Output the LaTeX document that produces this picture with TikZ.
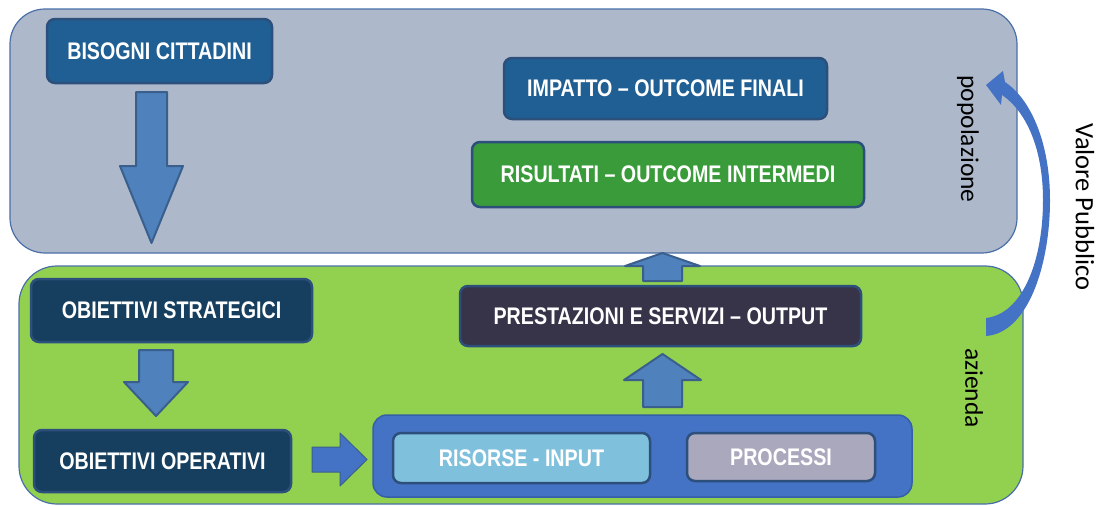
\documentclass[tikz,border=0pt]{standalone}
\usepackage{fontspec}
\setmainfont{Liberation Sans}
\newfontfamily\boxfont{Liberation Sans}[FakeStretch=0.82]
\newfontfamily\lblfont{Carlito}
\definecolor{popfill}{HTML}{ADB9CA}
\definecolor{bigline}{HTML}{4A6FA8}
\definecolor{azfill}{HTML}{92D050}
\definecolor{bluebox}{HTML}{1F5F94}
\definecolor{greenbox}{HTML}{3A9B3A}
\definecolor{purplebox}{HTML}{37344A}
\definecolor{navybox}{HTML}{163F5F}
\definecolor{contfill}{HTML}{4472C4}
\definecolor{contline}{HTML}{3560A8}
\definecolor{lightbox}{HTML}{7FC1DD}
\definecolor{greybox}{HTML}{A9A8BD}
\definecolor{boxline}{HTML}{2D4F7C}
\definecolor{arrfill}{HTML}{4F81BD}
\definecolor{arrline}{HTML}{3A5F8C}
\definecolor{curvefill}{HTML}{4472C4}
\begin{document}
\begin{tikzpicture}[x=1pt,y=-1pt,
  bigbox/.style={draw=bigline,line width=1.2pt},
  box/.style={rectangle,rounded corners=8pt,draw=boxline,line width=2.5pt,
    inner sep=0pt,text=white,
    font=\boxfont\bfseries\fontsize{24}{24}\selectfont},
  blockarrow/.style={fill=arrfill,draw=arrline,line width=2pt,line join=round},
  sidelabel/.style={font=\lblfont\fontsize{25.5}{25.5}\selectfont,text=black,rotate=-90,inner sep=0pt}]
\useasboundingbox (0,0) rectangle (1098,506);
% big regions
\draw[bigbox,fill=popfill,rounded corners=35pt] (10,9) rectangle (1017,253);
\draw[bigbox,fill=azfill,rounded corners=38pt] (19,266) rectangle (1023,504);
% block arrows
\draw[blockarrow] (136,92) -- (167,92) -- (167,166) -- (183,166) -- (151.5,243) -- (120,166) -- (136,166) -- cycle;
\draw[blockarrow] (139,350) -- (173,350) -- (173,382) -- (188,382) -- (156,416) -- (124,382) -- (139,382) -- cycle;
\draw[blockarrow,fill=contfill,line width=1pt] (312,447) -- (340,447) -- (340,433) -- (367,459.5) -- (340,486) -- (340,472) -- (312,472) -- cycle;
\draw[blockarrow] (643,281) -- (682,281) -- (682,266) -- (700,266) -- (662.5,253) -- (625,266) -- (643,266) -- cycle;
\draw[blockarrow] (643,407) -- (682,407) -- (682,380) -- (701,380) -- (662.5,354) -- (624,380) -- (643,380) -- cycle;
% curved arrow (Valore Pubblico)
\fill[curvefill] (986,336) .. controls (1028,333) and (1050,265) .. (1050,200)
  .. controls (1050,145) and (1032,100) .. (1005,82)
  -- (1003,71) -- (986,85) -- (1001,105) -- (1002,95)
  .. controls (1027,112) and (1043,150) .. (1043,200)
  .. controls (1043,262) and (1022,314) .. (986,318) -- cycle;
% nodes
\node[box,fill=bluebox,minimum width=225pt,minimum height=64pt] (bisogni) at (159.5,51) {BISOGNI CITTADINI};
\node[box,fill=bluebox,minimum width=323pt,minimum height=61pt] (impatto) at (665.5,88.5) {IMPATTO – OUTCOME FINALI};
\node[box,fill=greenbox,minimum width=392pt,minimum height=65pt] (risultati) at (668,174.5) {RISULTATI – OUTCOME INTERMEDI};
\node[box,fill=purplebox,minimum width=401pt,minimum height=60pt] (prest) at (660.5,316) {PRESTAZIONI E SERVIZI – OUTPUT};
\node[box,fill=navybox,minimum width=281pt,minimum height=63pt] (strat) at (171.5,310.5) {OBIETTIVI STRATEGICI};
\node[box,fill=navybox,minimum width=257pt,minimum height=62pt] (oper) at (162.5,461) {OBIETTIVI OPERATIVI};
\node[box,fill=contfill,draw=contline,line width=1.5pt,rounded corners=14pt,minimum width=539pt,minimum height=82pt] (cont) at (642.5,456) {};
\node[box,fill=lightbox,minimum width=257pt,minimum height=50pt] (risorse) at (521.5,458) {RISORSE - INPUT};
\node[box,fill=greybox,minimum width=188pt,minimum height=48pt] (processi) at (781,457) {PROCESSI};
% side labels
\node[sidelabel] (pop) at (968,139) {popolazione};
\node[sidelabel] (az) at (974,388) {azienda};
\node[sidelabel,font=\lblfont\fontsize{26.5}{26.5}\selectfont] (vp) at (1085,207) {Valore Pubblico};
\end{tikzpicture}
\end{document}
